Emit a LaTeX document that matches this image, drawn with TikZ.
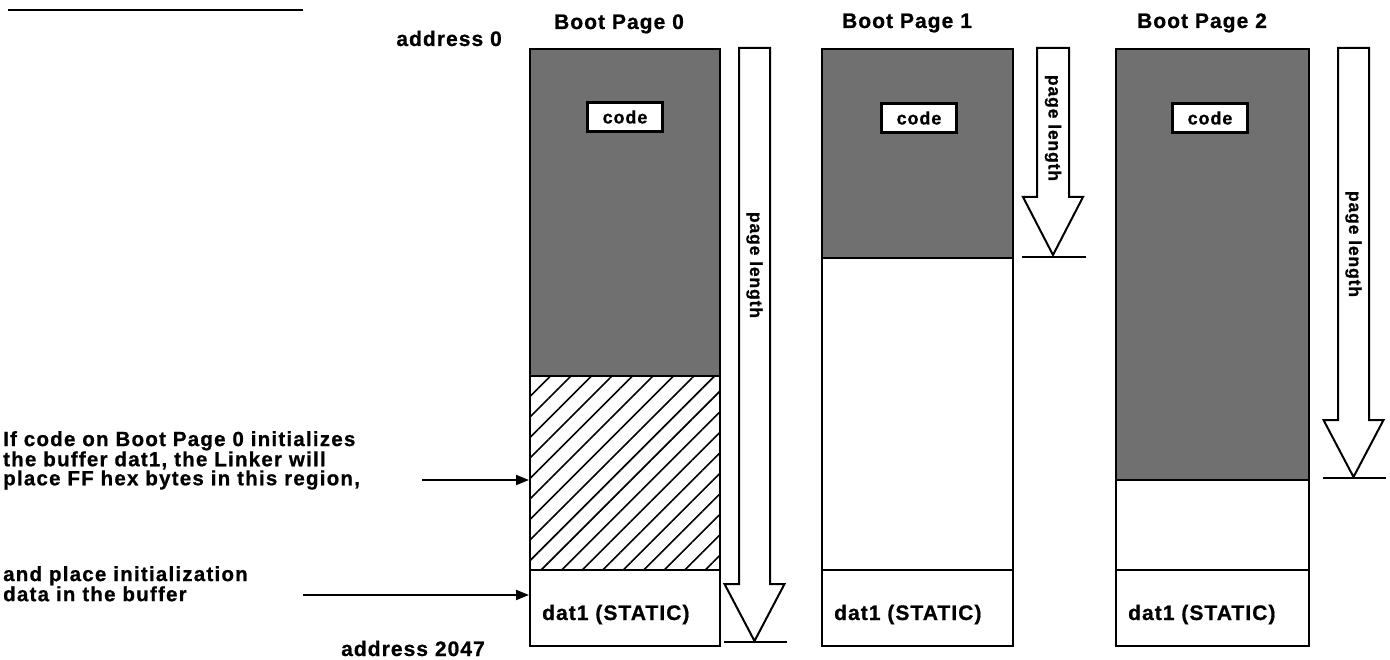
\documentclass[tikz,border=0pt]{standalone}
\usepackage{fontspec}
\setmainfont{Liberation Sans}[LetterSpace=5,FakeBold=0.8]
\usetikzlibrary{patterns.meta,arrows.meta}
\begin{document}
\begin{tikzpicture}[x=1pt,y=-1pt,
  title/.style={font=\fontsize{21}{21}\selectfont\bfseries, inner sep=0, anchor=base},
  addr/.style={font=\fontsize{21}{21}\selectfont\bfseries, inner sep=0, anchor=base east},
  note/.style={font=\fontsize{20.5}{19}\selectfont\bfseries\addfontfeatures{LetterSpace=6}, inner sep=0, anchor=north west, align=left},
  shaded/.style={draw, line width=2.4pt, fill=black!56, inner sep=0, anchor=north west},
  plain/.style={draw, line width=2.2pt, fill=white, inner sep=0, anchor=north west},
  hatched/.style={draw, line width=2.2pt, inner sep=0, anchor=north west, pattern={Lines[angle=45,distance=14.5pt,line width=1.6pt]}},
  codebox/.style={draw, line width=2.4pt, fill=white, minimum width=75pt, minimum height=29pt, inner sep=0, font=\fontsize{18}{18}\selectfont\bfseries},
  datlbl/.style={font=\fontsize{21}{21}\selectfont\bfseries, inner sep=0, anchor=base west},
  lenlbl/.style={font=\fontsize{17.5}{17.5}\selectfont\bfseries, inner sep=0, rotate=-90},
  blockarrow/.style={draw, line width=2pt, fill=white, line join=miter},
  baseline/.style={line width=2.8pt},
  pointer/.style={line width=2pt, -{Triangle[length=13pt,width=10pt]}}
]
\useasboundingbox (0,0) rectangle (1390,660);

% top-left rule
\coordinate (r1) at (8,10);
\coordinate (r2) at (303,10);
\draw[line width=1.8pt] (r1) -- (r2);

% titles and addresses
\node[title] (t0) at (619,29) {Boot Page 0};
\node[title] (t1) at (907,28) {Boot Page 1};
\node[title] (t2) at (1202,28) {Boot Page 2};
\node[addr] (a0) at (502,46) {address 0};
\node[addr] (a2047) at (485,656) {address 2047};

% Boot Page 0
\node[shaded, minimum width=190pt, minimum height=327pt] (code0r) at (529,48) {};
\node[hatched, minimum width=190pt, minimum height=194pt] (hatch0) at (529,375) {};
\node[plain, minimum width=190pt, minimum height=76pt] (dat0) at (529,569) {};
\node[codebox] (code0) at (625,117) {code};
\node[datlbl] (d0) at (542,620) {dat1 (STATIC)};

% Boot Page 1
\node[shaded, minimum width=191pt, minimum height=209pt] (code1r) at (821,48) {};
\node[plain, minimum width=191pt, minimum height=312pt] (free1) at (821,257) {};
\node[plain, minimum width=191pt, minimum height=76pt] (dat1b) at (821,569) {};
\node[codebox] (code1) at (919,118) {code};
\node[datlbl] (d1) at (834,620) {dat1 (STATIC)};

% Boot Page 2
\node[shaded, minimum width=193pt, minimum height=431pt] (code2r) at (1115,48) {};
\node[plain, minimum width=193pt, minimum height=90pt] (free2) at (1115,479) {};
\node[plain, minimum width=193pt, minimum height=76pt] (dat2b) at (1115,569) {};
\node[codebox] (code2) at (1210,118) {code};
\node[datlbl] (d2) at (1128,620) {dat1 (STATIC)};

% page length arrows
\draw[blockarrow] (739,48) -- (770,48) -- (770,584) -- (784.5,584) -- (754.5,641) -- (724.5,584) -- (739,584) -- cycle;
\draw[baseline] (724,642) -- (787,642);
\node[lenlbl] (len0) at (754.5,265) {page length};

\draw[blockarrow] (1037,48) -- (1069,48) -- (1069,197) -- (1083,197) -- (1053,255) -- (1023,197) -- (1037,197) -- cycle;
\draw[baseline] (1022,257) -- (1086,257);
\node[lenlbl] (len1) at (1053,128) {page length};

\draw[blockarrow] (1338,48) -- (1369,48) -- (1369,420) -- (1383.5,420) -- (1353.5,477) -- (1323.5,420) -- (1338,420) -- cycle;
\draw[baseline] (1323,478) -- (1386,478);
\node[lenlbl] (len2) at (1353.5,244) {page length};

% notes
\node[note] (n1) at (3,431) {If code on Boot Page 0 initializes\\the buffer dat1, the Linker will\\place FF hex bytes in this region,};
\node[note] (n2) at (3,566) {and place initialization\\data in the buffer};
\coordinate (p1) at (422,480);
\coordinate (p2) at (303,595);
\draw[pointer] (p1) -- (p1 -| hatch0.west);
\draw[pointer] (p2) -- (p2 -| dat0.west);
\end{tikzpicture}
\end{document}
